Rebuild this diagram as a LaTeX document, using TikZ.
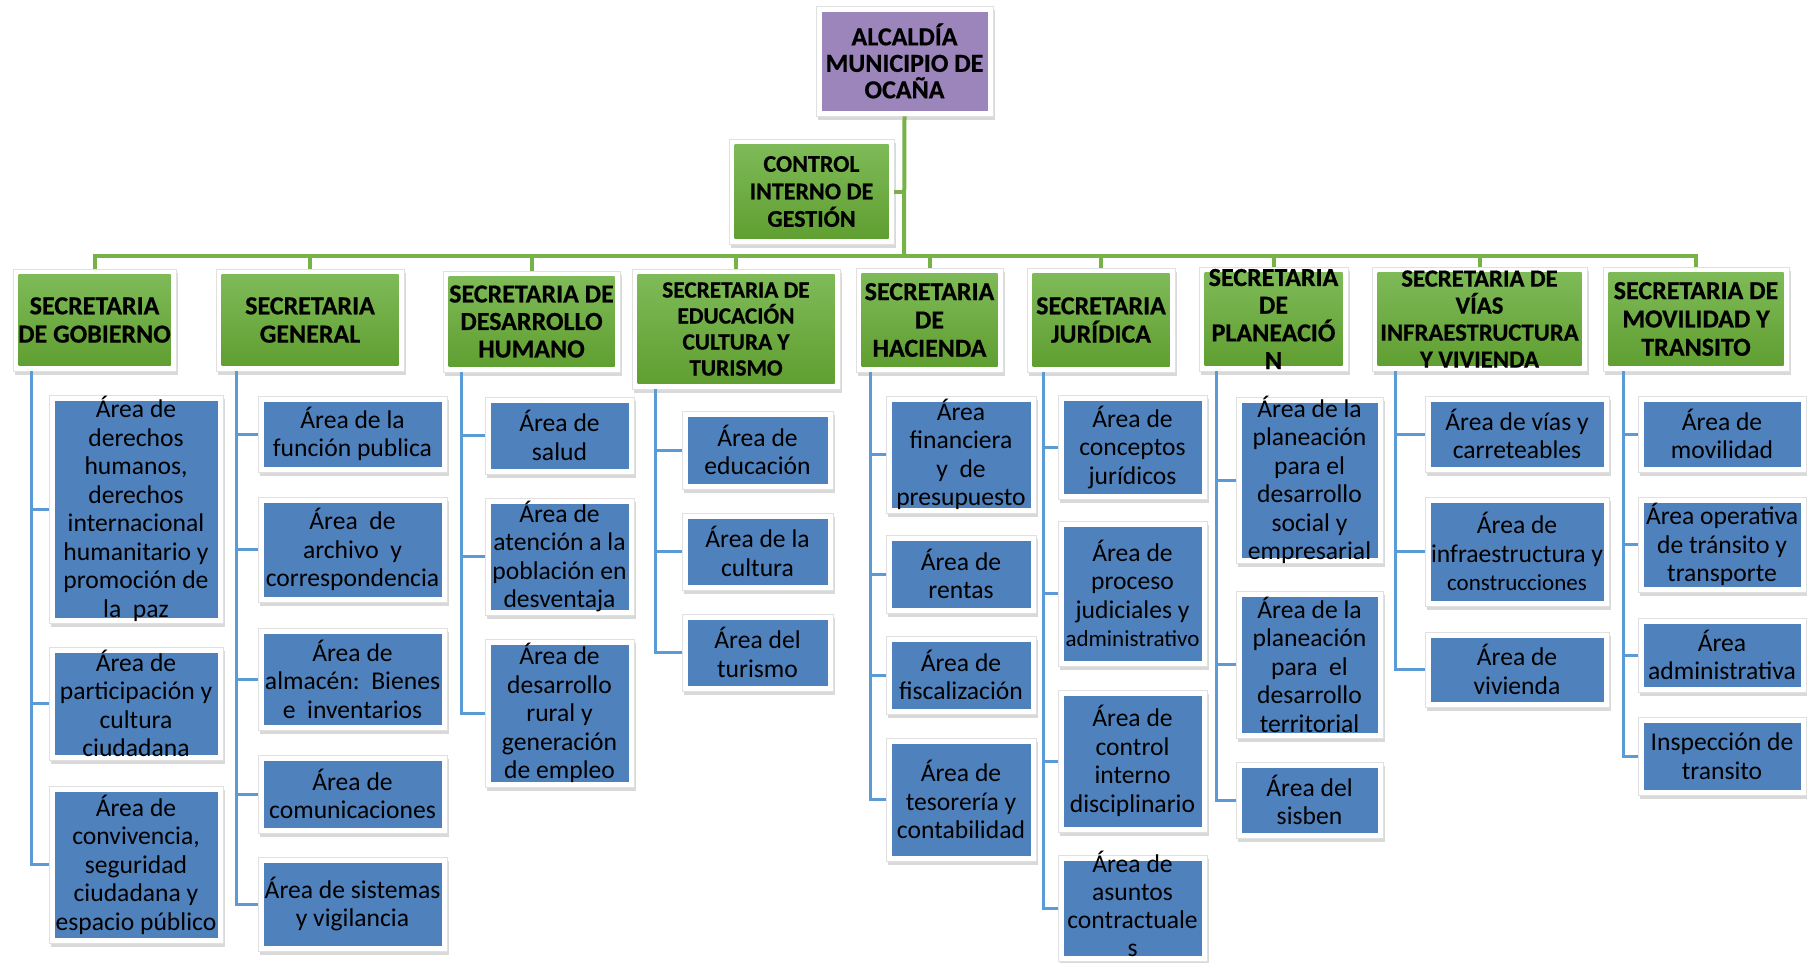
\documentclass[tikz,border=0pt]{standalone}
\usepackage{fontspec}
\setmainfont{Carlito}[BoldFeatures={FakeBold=0.6}]
\usetikzlibrary{shadows}
\definecolor{areablue}{RGB}{79,129,189}
\definecolor{lineblue}{RGB}{91,155,213}
\definecolor{gtop}{RGB}{128,188,90}
\definecolor{gbot}{RGB}{94,157,47}
\definecolor{glinec}{RGB}{118,178,72}
\definecolor{purp}{RGB}{155,133,186}
\newcommand\areafont{\fontsize{25.6}{28.5}\selectfont}
\newcommand\smallarea{\fontsize{23}{28.5}\selectfont}
\newcommand\secfont{\fontsize{26}{28.3}\selectfont\bfseries}
\newcommand\orgbox[8]{%
  \node[#1, minimum width={#6-#4}, minimum height={#7-#5}] (#3) at ({(#4+#6)/2},{(#5+#7)/2}) {};
  \node[#2] (#3-t) at (#3.center) {#8};}
\tikzset{
  frame/.style={fill=white, draw=black!12, line width=0.5pt, inner sep=0pt,
    drop shadow={opacity=0.3, shadow xshift=1.5pt, shadow yshift=-3.5pt}},
  areabox/.style={frame, path picture={\fill[areablue] ([shift={(5.5pt,-5.5pt)}]path picture bounding box.north west) rectangle ([shift={(-5.5pt,5.5pt)}]path picture bounding box.south east);}},
  secbox/.style={frame, path picture={\shade[top color=gtop, bottom color=gbot] ([shift={(5.5pt,-5.5pt)}]path picture bounding box.north west) rectangle ([shift={(-5.5pt,5.5pt)}]path picture bounding box.south east);}},
  topbox/.style={frame, path picture={\fill[purp] ([shift={(5.5pt,-5.5pt)}]path picture bounding box.north west) rectangle ([shift={(-5.5pt,5.5pt)}]path picture bounding box.south east);}},
  atext/.style={align=center, inner sep=0pt, font=\areafont},
  stext/.style={align=center, inner sep=0pt, font=\secfont},
  gconn/.style={draw=glinec, line width=4pt},
  bconn/.style={draw=lineblue, line width=3pt},
}
\begin{document}
\begin{tikzpicture}[x=1pt,y=-1pt]
\useasboundingbox (0,0) rectangle (1807,962);
% top
\orgbox{topbox}{stext,font=\fontsize{26}{26.5}\selectfont\bfseries}{alc}{816}{6}{993}{116}{ALCALDÍA\\MUNICIPIO DE\\OCAÑA}
\orgbox{secbox}{stext,font=\fontsize{24}{27.5}\selectfont\bfseries}{ctrl}{729}{139}{894}{244}{CONTROL\\INTERNO DE\\GESTIÓN}
% secretarias
\orgbox{secbox}{stext}{s1}{13}{269}{176}{371}{SECRETARIA\\DE GOBIERNO}
\orgbox{secbox}{stext}{s2}{216}{269}{404}{371}{SECRETARIA\\GENERAL}
\orgbox{secbox}{stext,font=\fontsize{26}{27.5}\selectfont\bfseries}{s3}{443}{271}{620}{372}{SECRETARIA DE\\DESARROLLO\\HUMANO}
\orgbox{secbox}{stext,font=\fontsize{23.3}{26}\selectfont\bfseries}{s4}{632}{269}{840}{389}{SECRETARIA DE\\EDUCACIÓN\\CULTURA Y\\TURISMO}
\orgbox{secbox}{stext}{s5}{856}{268}{1003}{372}{SECRETARIA\\DE\\HACIENDA}
\orgbox{secbox}{stext}{s6}{1027}{268}{1175}{372}{SECRETARIA\\JURÍDICA}
\orgbox{secbox}{stext,font=\fontsize{26}{27.7}\selectfont\bfseries}{s7}{1199}{267}{1348}{371}{SECRETARIA\\DE\\PLANEACIÓ\\N}
\orgbox{secbox}{stext,font=\fontsize{24.7}{27}\selectfont\bfseries}{s8}{1372}{267}{1587}{371}{SECRETARIA DE\\VÍAS\\INFRAESTRUCTURA\\Y VIVIENDA}
\orgbox{secbox}{stext}{s9}{1603}{267}{1789}{371}{SECRETARIA DE\\MOVILIDAD Y\\TRANSITO}
% areas: gobierno
\orgbox{areabox}{atext}{A1}{49}{395}{223}{623}{Área de\\derechos\\humanos,\\derechos\\internacional\\humanitario y\\promoción de\\la\ \ paz}
\orgbox{areabox}{atext}{A2}{49}{647}{223}{760}{Área de\\participación y\\cultura\\ciudadana}
\orgbox{areabox}{atext}{A3}{49}{786}{223}{943}{Área de\\convivencia,\\seguridad\\ciudadana y\\espacio público}
% general
\orgbox{areabox}{atext}{B1}{258}{396}{447}{472}{Área de la\\función publica}
\orgbox{areabox}{atext}{B2}{258}{497}{447}{602}{Área\ \ de\\archivo\ \ y\\correspondencia}
\orgbox{areabox}{atext}{B3}{258}{628}{447}{730}{Área de\\almacén:\ \ Bienes\\e\ \ inventarios}
\orgbox{areabox}{atext}{B4}{258}{755}{447}{833}{Área de\\comunicaciones}
\orgbox{areabox}{atext}{B5}{258}{857}{447}{951}{Área de sistemas\\y vigilancia}
% desarrollo humano
\orgbox{areabox}{atext}{C1}{485}{397}{634}{474}{Área de\\salud}
\orgbox{areabox}{atext}{C2}{485}{498}{634}{615}{Área de\\atención a la\\población en\\desventaja}
\orgbox{areabox}{atext}{C3}{485}{639}{634}{787}{Área de\\desarrollo\\rural y\\generación\\de empleo}
% educacion
\orgbox{areabox}{atext}{D1}{682}{411}{833}{489}{Área de\\educación}
\orgbox{areabox}{atext}{D2}{682}{513}{833}{590}{Área de la\\cultura}
\orgbox{areabox}{atext}{D3}{682}{614}{833}{691}{Área del\\turismo}
% hacienda
\orgbox{areabox}{atext}{E1}{886}{396}{1036}{513}{Área\\financiera\\y\ \ de\\presupuesto}
\orgbox{areabox}{atext}{E2}{886}{535}{1036}{613}{Área de\\rentas}
\orgbox{areabox}{atext}{E3}{886}{636}{1036}{714}{Área de\\fiscalización}
\orgbox{areabox}{atext}{E4}{886}{738}{1036}{861}{Área de\\tesorería y\\contabilidad}
% juridica
\orgbox{areabox}{atext}{F1}{1058}{395}{1207}{499}{Área de\\conceptos\\jurídicos}
\orgbox{areabox}{atext}{F2}{1058}{521}{1207}{666}{Área de\\proceso\\judiciales y\\{\smallarea administrativo}}
\orgbox{areabox}{atext}{F3}{1058}{690}{1207}{832}{Área de\\control\\interno\\disciplinario}
\orgbox{areabox}{atext,font=\fontsize{25.6}{27.8}\selectfont,yshift=4pt}{F4}{1058}{855}{1207}{961}{Área de\\asuntos\\contractuale\\s}
% planeacion
\orgbox{areabox}{atext}{G1}{1236}{397}{1383}{563}{Área de la\\planeación\\para el\\desarrollo\\social y\\empresarial}
\orgbox{areabox}{atext}{G2}{1236}{591}{1383}{738}{Área de la\\planeación\\para\ \ el\\desarrollo\\territorial}
\orgbox{areabox}{atext}{G3}{1236}{762}{1383}{838}{Área del\\sisben}
% vias
\orgbox{areabox}{atext}{H1}{1425}{396}{1609}{472}{Área de vías y\\carreteables}
\orgbox{areabox}{atext}{H2}{1425}{497}{1609}{606}{Área de\\infraestructura y\\{\smallarea construcciones}}
\orgbox{areabox}{atext}{H3}{1425}{632}{1609}{707}{Área de\\vivienda}
% movilidad
\orgbox{areabox}{atext}{I1}{1638}{396}{1806}{472}{Área de\\movilidad}
\orgbox{areabox}{atext}{I2}{1638}{497}{1806}{592}{Área operativa\\de tránsito y\\transporte}
\orgbox{areabox}{atext}{I3}{1638}{618}{1806}{692}{Área\\administrativa}
\orgbox{areabox}{atext}{I4}{1638}{717}{1806}{795}{Inspección de\\transito}
% green connectors
\coordinate (bus) at (904,256);
\draw[gconn] (alc.south) -- (bus);
\draw[gconn] (ctrl.east) -- (ctrl.east -| bus);
\foreach \s in {s1,s2,s3,s4,s5,s6,s7,s8,s9} \draw[gconn] (bus) -| (\s.north);
% blue connectors
\foreach \s/\o/\l in {s1/19/{A1,A2,A3}, s2/21/{B1,B2,B3,B4,B5}, s3/19/{C1,C2,C3}, s4/24/{D1,D2,D3}, s5/15/{E1,E2,E3,E4}, s6/17/{F1,F2,F3,F4}, s7/18/{G1,G2,G3}, s8/24/{H1,H2,H3}, s9/21/{I1,I2,I3,I4}}
  \foreach \a in \l \draw[bconn] ([xshift=\o pt]\s.south west) |- (\a.west);
\end{tikzpicture}
\end{document}
